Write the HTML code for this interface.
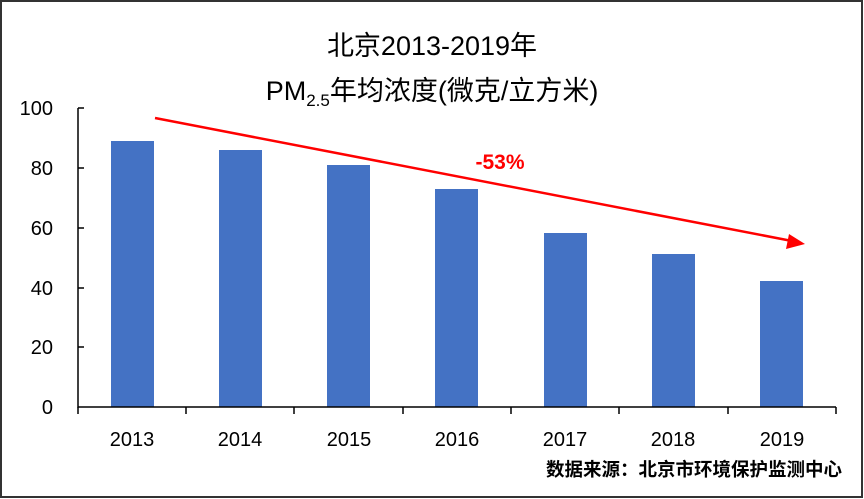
<!DOCTYPE html>
<html><head><meta charset="utf-8"><style>
body{margin:0;background:#fff}
svg{display:block}
text{font-family:"Liberation Sans","Noto Sans CJK SC",sans-serif}
</style></head><body>
<svg width="864" height="499" viewBox="0 0 864 499">
<rect x="1" y="1" width="861" height="496" fill="#fff" stroke="#333" stroke-width="2"/>
<text x="432" y="55" font-size="27" text-anchor="middle" fill="#000">北京2013-2019年</text>
<text x="432" y="100" font-size="27" text-anchor="middle" fill="#000">PM<tspan font-size="17" dy="6">2.5</tspan><tspan dy="-6">年均浓度(微克/立方米)</tspan></text>
<g font-size="20" fill="#000" text-anchor="end">
<text x="53" y="115">100</text><text x="53" y="175">80</text><text x="53" y="235">60</text>
<text x="53" y="295">40</text><text x="53" y="354">20</text><text x="53" y="414">0</text>
</g>
<g fill="#4472C4">
<rect x="111" y="141" width="43" height="266"/>
<rect x="219" y="150" width="43" height="257"/>
<rect x="327" y="165" width="43" height="242"/>
<rect x="435" y="189" width="43" height="218"/>
<rect x="544" y="233" width="43" height="174"/>
<rect x="652" y="254" width="43" height="153"/>
<rect x="760" y="281" width="43" height="126"/>
</g>
<g stroke="#000" stroke-width="1.5" fill="none">
<path d="M78 108V407H836"/>
<path d="M78 108h6M78 168h6M78 228h6M78 288h6M78 347h6"/>
<path d="M78 407v7M186 407v7M294 407v7M403 407v7M511 407v7M619 407v7M728 407v7M836 407v7"/>
</g>
<g font-size="20" fill="#000" text-anchor="middle">
<text x="132" y="446">2013</text><text x="240" y="446">2014</text><text x="349" y="446">2015</text>
<text x="457" y="446">2016</text><text x="565" y="446">2017</text><text x="673" y="446">2018</text><text x="782" y="446">2019</text>
</g>
<line x1="155" y1="118" x2="792" y2="241" stroke="#FF0000" stroke-width="2.5"/>
<polygon points="805,244 789,234 786,249" fill="#FF0000"/>
<text x="500" y="169" font-size="21" font-weight="bold" fill="#FF0000" text-anchor="middle">-53%</text>
<text x="842" y="476" font-size="18.5" font-weight="bold" fill="#000" text-anchor="end">数据来源：北京市环境保护监测中心</text>
</svg>
</body></html>
